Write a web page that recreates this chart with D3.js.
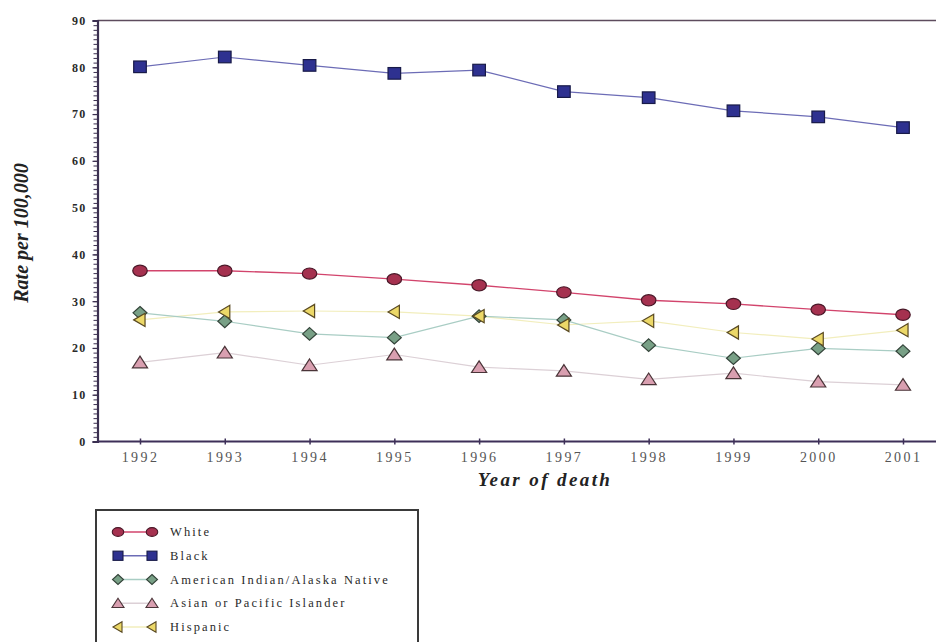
<!DOCTYPE html>
<html>
<head>
<meta charset="utf-8">
<script src="https://cdn.jsdelivr.net/npm/d3@7"></script>
<style>
  html, body { margin: 0; padding: 0; background: #fff; }
  svg { display: block; }
  text { font-family: "Liberation Serif", "Times New Roman", serif; }
</style>
</head>
<body>
<svg id="chart" width="936" height="642"></svg>
<script>
// Death rates per 100,000 by race/ethnicity, 1992-2001
const years = [1992, 1993, 1994, 1995, 1996, 1997, 1998, 1999, 2000, 2001];
const white    = [36.5, 36.5, 35.9, 34.7, 33.4, 31.9, 30.2, 29.4, 28.2, 27.1];
const black    = [80.1, 82.2, 80.4, 78.7, 79.4, 74.8, 73.5, 70.7, 69.4, 67.1];
const aian     = [27.5, 25.7, 23.0, 22.2, 26.8, 26.0, 20.6, 17.8, 19.9, 19.3];
const api      = [16.9, 19.0, 16.3, 18.6, 15.9, 15.1, 13.3, 14.6, 12.8, 12.1];
const hispanic = [26.0, 27.7, 27.9, 27.7, 26.8, 24.9, 25.8, 23.3, 21.9, 23.8];
const yTicks = [0, 10, 20, 30, 40, 50, 60, 70, 80, 90];
const seriesNames = ["White", "Black", "American Indian/Alaska Native", "Asian or Pacific Islander", "Hispanic"];

const series = [
  { name: seriesNames[0], values: white,    shape: "ellipse",  line: "#d2446c", fill: "#a5314f", stroke: "#4a1828", width: 1.3 },
  { name: seriesNames[1], values: black,    shape: "square",   line: "#6c6cb6", fill: "#2e3190", stroke: "#181a48", width: 1.2 },
  { name: seriesNames[2], values: aian,     shape: "diamond",  line: "#a9cdc4", fill: "#78a086", stroke: "#34443a", width: 1.2 },
  { name: seriesNames[3], values: api,      shape: "triUp",    line: "#dcd0d6", fill: "#d99fb0", stroke: "#4a3438", width: 1.2 },
  { name: seriesNames[4], values: hispanic, shape: "triLeft",  line: "#f2eebd", fill: "#ecd868", stroke: "#5a4a22", width: 1.2 }
];

const svg = d3.select("#chart");
const axisLeftX = 97.5, plotTop = 20.5, plotBottom = 441.5;

const x = d3.scaleLinear().domain([1992, 2001]).range([140, 903]);
const y = d3.scaleLinear().domain([0, 90]).range([plotBottom, plotTop]);

// top frame line
svg.append("line")
  .attr("x1", axisLeftX).attr("x2", 936)
  .attr("y1", plotTop).attr("y2", plotTop)
  .attr("stroke", "#5e4c5e").attr("stroke-width", 1.6);

// y axis: minor ticks every unit
const yMinor = svg.append("g").attr("transform", `translate(${axisLeftX},0)`)
  .call(d3.axisLeft(y).tickValues(d3.range(0, 91, 1)).tickSize(4).tickFormat(""));
yMinor.select(".domain").remove();
yMinor.selectAll(".tick line").attr("stroke", "#3b3050").attr("stroke-width", 1);

// y axis: labelled ticks
const yAxis = svg.append("g").attr("transform", `translate(${axisLeftX},0)`)
  .call(d3.axisLeft(y).tickValues(yTicks).tickSize(5).tickPadding(6));
yAxis.select(".domain").attr("stroke", "#3b3050").attr("stroke-width", 2.2);
yAxis.selectAll(".tick line").attr("stroke", "#3b3050").attr("stroke-width", 1.2);
yAxis.selectAll(".tick text")
  .attr("font-family", "'Liberation Serif', serif")
  .attr("font-weight", "bold")
  .attr("font-size", 12)
  .attr("letter-spacing", "1.2px")
  .attr("fill", "#2a2a2a");

// x axis
const xAxis = svg.append("g").attr("transform", `translate(0,${plotBottom})`)
  .call(d3.axisBottom(x).tickValues(years).tickSize(3).tickPadding(8).tickFormat(d3.format("d")));
xAxis.select(".domain").attr("d", `M${axisLeftX},0H936`).attr("stroke", "#3d2f58").attr("stroke-width", 2.2);
xAxis.selectAll(".tick line").attr("y1", -3).attr("y2", 3).attr("stroke", "#3d2f58").attr("stroke-width", 1.5);
xAxis.selectAll(".tick text")
  .attr("font-family", "'Liberation Serif', serif")
  .attr("font-size", 14)
  .attr("letter-spacing", "2.4px")
  .attr("fill", "#555");

// axis titles
svg.append("text")
  .attr("x", 545).attr("y", 486)
  .attr("text-anchor", "middle")
  .attr("font-size", 19).attr("font-weight", "bold").attr("font-style", "italic")
  .attr("letter-spacing", "2.4px")
  .attr("fill", "#222")
  .text("Year of death");

svg.append("text")
  .attr("transform", `translate(28,${(plotTop + plotBottom) / 2 + 2}) rotate(-90)`)
  .attr("text-anchor", "middle")
  .attr("font-size", 20).attr("font-weight", "bold").attr("font-style", "italic")
  .attr("fill", "#222")
  .text("Rate per 100,000");

// marker drawing (s = nominal half-size)
function marker(g, shape, s) {
  switch (shape) {
    case "ellipse":
      return g.append("ellipse").attr("rx", s * 1.15).attr("ry", s * 0.88);
    case "square":
      return g.append("rect").attr("x", -s).attr("y", -s * 0.92).attr("width", 2 * s).attr("height", 1.84 * s);
    case "diamond":
      return g.append("path").attr("d", `M0,${-s}L${s * 1.1},0L0,${s}L${-s * 1.1},0Z`);
    case "triUp":
      return g.append("path").attr("d", `M0,${-s}L${s * 1.2},${s * 0.85}L${-s * 1.2},${s * 0.85}Z`);
    case "triLeft":
      return g.append("path").attr("d", `M${-s},0L${s * 0.8},${-s * 1.05}L${s * 0.8},${s * 1.05}Z`);
  }
}

const line = d3.line().x((d, i) => x(years[i])).y(d => y(d));

// lines first, so every marker sits on top
const linesG = svg.append("g");
series.slice().reverse().forEach(sr => {
  linesG.append("path")
    .datum(sr.values)
    .attr("d", line)
    .attr("fill", "none")
    .attr("stroke", sr.line)
    .attr("stroke-width", sr.width);
});

const markG = svg.append("g");
[series[0], series[1], series[3], series[2], series[4]].forEach(sr => {
  sr.values.forEach((v, i) => {
    const g = markG.append("g").attr("transform", `translate(${x(years[i])},${y(v)})`);
    marker(g, sr.shape, 6.3)
      .attr("fill", sr.fill)
      .attr("stroke", sr.stroke)
      .attr("stroke-width", 1.2);
  });
});

// legend
const legend = svg.append("g");
legend.append("rect")
  .attr("x", 96).attr("y", 510).attr("width", 322).attr("height", 150)
  .attr("fill", "#fff").attr("stroke", "#3a3a3a").attr("stroke-width", 2);

const legendRowY = d3.scalePoint().domain(seriesNames).range([532, 627]);
series.forEach(sr => {
  const ry = legendRowY(sr.name);
  legend.append("line")
    .attr("x1", 118).attr("x2", 152).attr("y1", ry).attr("y2", ry)
    .attr("stroke", sr.line).attr("stroke-width", 1.3);
  [118, 152].forEach(mx => {
    const g = legend.append("g").attr("transform", `translate(${mx},${ry})`);
    marker(g, sr.shape, 5)
      .attr("fill", sr.fill)
      .attr("stroke", sr.stroke)
      .attr("stroke-width", 1.1);
  });
  legend.append("text")
    .attr("x", 170).attr("y", ry + 4)
    .attr("font-size", 12.5)
    .attr("letter-spacing", "2.1px")
    .attr("fill", "#2a2a2a")
    .text(sr.name);
});
</script>
</body>
</html>
